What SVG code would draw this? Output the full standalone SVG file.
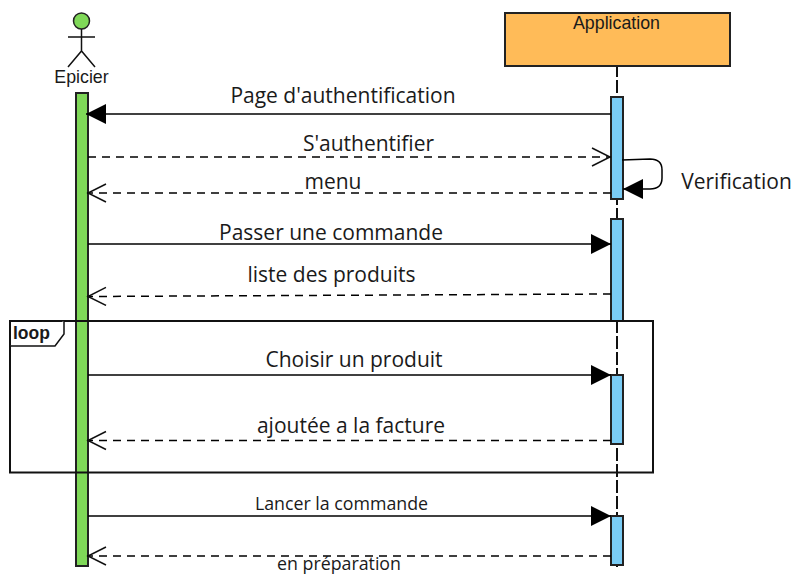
<svg xmlns="http://www.w3.org/2000/svg" width="811" height="582" viewBox="0 0 811 582">
<style>
.bar{stroke:#222;stroke-width:2}
.g{fill:#7fd858}
.b{fill:#7accf5}
.l{fill:none;stroke:#000;stroke-width:1.5}
.d{stroke-dasharray:8 6}
.o{font-family:"Open Sans",sans-serif;fill:#1a1a1a;text-anchor:middle}
.a{font-family:"Liberation Sans",sans-serif;fill:#1a1a1a;text-anchor:middle;font-size:17.8px}
</style>
<defs>
<marker id="fill" markerUnits="userSpaceOnUse" markerWidth="22" markerHeight="22" refX="20" refY="11" orient="auto"><path d="M0 1L20 11L0 21Z" fill="#000"/></marker>
<marker id="open" markerUnits="userSpaceOnUse" markerWidth="22" markerHeight="22" refX="20" refY="10" orient="auto"><path d="M1 1L19 10L1 19" fill="none" stroke="#111" stroke-width="1.5"/></marker>
</defs>
<g id="lifeline"><path d="M617 66V567" fill="none" stroke="#111" stroke-width="2" stroke-dasharray="13 3" stroke-dashoffset="2"/></g>
<g id="actor-epicier">
<circle cx="81.500" cy="21" r="8" fill="#7fd858" stroke="#222" stroke-width="1.500"/>
<path d="M81.500 29V51M68 37H95M68 67L81.500 51L95 67" fill="none" stroke="#111" stroke-width="1.500"/>
<text class="a" x="81.500" y="83">Epicier</text>
<rect class="bar g" x="76" y="93" width="12" height="473"/>
</g>
<g id="application">
<rect x="505" y="13" width="225" height="53" fill="#ffbb58" stroke="#222" stroke-width="2"/>
<text class="a" x="616.500" y="29">Application</text>
</g>
<g id="act-1"><rect class="bar b" x="611" y="97" width="12" height="102"/></g>
<g id="act-2"><rect class="bar b" x="611" y="219" width="12" height="102"/></g>
<g id="act-3"><rect class="bar b" x="611" y="375" width="12" height="69"/></g>
<g id="act-4"><rect class="bar b" x="611" y="516" width="12" height="49"/></g>
<g id="loop-frame">
<rect x="10" y="321" width="643" height="151.500" fill="none" stroke="#111" stroke-width="2"/>
<path d="M10 346H55L64 334V321" fill="#fff" stroke="#111" stroke-width="1.500"/>
<text x="13" y="339" font-family="Liberation Sans,sans-serif" font-weight="700" font-size="17.500" fill="#1a1a1a">loop</text>
</g>
<g id="connectors">
<path class="l" d="M611 114H86" marker-end="url(#fill)"/>
<path class="l d" d="M88 157H611" marker-end="url(#open)"/>
<path class="l" d="M622 160L650 159Q662 159 662 170V178Q662 189 650 189H623" marker-end="url(#fill)"/>
<path class="l d" d="M611 193H87" marker-end="url(#open)"/>
<path class="l" d="M88 244H611" marker-end="url(#fill)"/>
<path class="l d" d="M611 294L87 296.500" marker-end="url(#open)"/>
<path class="l" d="M88 375H611" marker-end="url(#fill)"/>
<path class="l d" d="M611 440.500H87" marker-end="url(#open)"/>
<path class="l" d="M88 516H611" marker-end="url(#fill)"/>
<path class="l d" d="M611 556H87" marker-end="url(#open)"/>
</g>
<g id="labels">
<text class="o" x="343" y="103" font-size="21">Page d'authentification</text>
<text class="o" x="368.500" y="151" font-size="21">S'authentifier</text>
<text class="o" x="333" y="189" font-size="21">menu</text>
<text class="o" x="736.500" y="189" font-size="21">Verification</text>
<text class="o" x="331" y="240" font-size="21">Passer une commande</text>
<text class="o" x="331.500" y="282" font-size="21">liste des produits</text>
<text class="o" x="354" y="367" font-size="21">Choisir un produit</text>
<text class="o" x="351" y="433" font-size="21">ajoutée a la facture</text>
<text class="o" x="341.500" y="510" font-size="17.800">Lancer la commande</text>
<text class="o" x="339" y="570" font-size="17.800">en préparation</text>
</g>
</svg>
